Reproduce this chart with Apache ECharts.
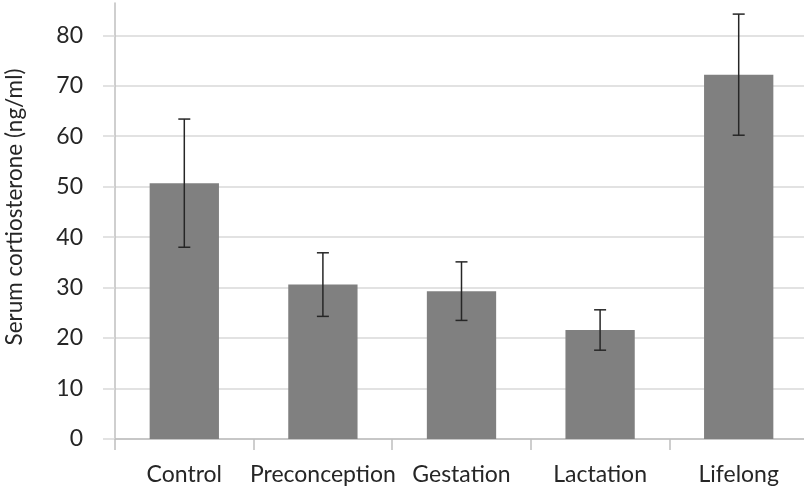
<!DOCTYPE html>
<html>
<head>
<meta charset="utf-8">
<script src="https://cdn.jsdelivr.net/npm/echarts@6/dist/echarts.min.js"></script>
<style>html,body{margin:0;padding:0;background:#fff;}#c{width:804px;height:490px;}</style>
</head>
<body>
<div id="c"></div>
<script>
const categories = ['Control', 'Preconception', 'Gestation', 'Lactation', 'Lifelong'];
const means = [50.7, 30.6, 29.3, 21.6, 72.2];
const errors = [12.7, 6.3, 5.8, 4.0, 12.0];
const yTicks = [0, 10, 20, 30, 40, 50, 60, 70, 80];

const chart = echarts.init(document.getElementById('c'), null, {renderer: 'canvas'});
const font = 'Lato, "Noto Sans", sans-serif';
chart.setOption({
  animation: false,
  grid: {left: 115, right: -4, top: 3, bottom: 51, containLabel: false, outerBoundsMode: 'none'},
  xAxis: {
    type: 'category',
    data: categories,
    boundaryGap: true,
    axisLine: {lineStyle: {color: '#bfbfbf', width: 1.5}},
    axisTick: {show: true, length: 11, lineStyle: {color: '#bfbfbf', width: 1.5}},
    axisLabel: {color: '#262626', fontSize: 23, fontFamily: font, margin: 24, interval: 0}
  },
  yAxis: {
    type: 'value',
    min: 0, max: 86.4, interval: 10,
    name: 'Serum cortiosterone (ng/ml)',
    nameLocation: 'middle',
    nameGap: 89,
    nameRotate: 90,
    nameTextStyle: {color: '#262626', fontSize: 22.5, fontFamily: font, padding: [0, 0, 0, 28]},
    axisLine: {show: true, lineStyle: {color: '#bfbfbf', width: 1.5}},
    axisTick: {show: true, length: 12, lineStyle: {color: '#d9d9d9', width: 1.5}},
    axisLabel: {color: '#262626', fontSize: 23, fontFamily: font, margin: 32, showMaxLabel: false,
      formatter: v => (yTicks.indexOf(v) >= 0 ? String(v) : '')},
    splitLine: {show: true, showMaxLine: false, lineStyle: {color: '#d9d9d9', width: 1.5}}
  },
  series: [
    {
      type: 'bar',
      data: means,
      barWidth: '50%',
      itemStyle: {color: '#808080'},
      z: 2
    },
    {
      type: 'custom',
      z: 3,
      data: means.map((m, i) => [i, m - errors[i], m + errors[i]]),
      renderItem: function (params, api) {
        const x = api.value(0);
        const lo = api.coord([x, api.value(1)]);
        const hi = api.coord([x, api.value(2)]);
        const cap = 6;
        const style = {stroke: '#262626', lineWidth: 1.5};
        return {
          type: 'group',
          children: [
            {type: 'line', shape: {x1: hi[0], y1: hi[1], x2: lo[0], y2: lo[1]}, style: style},
            {type: 'line', shape: {x1: hi[0] - cap, y1: hi[1], x2: hi[0] + cap, y2: hi[1]}, style: style},
            {type: 'line', shape: {x1: lo[0] - cap, y1: lo[1], x2: lo[0] + cap, y2: lo[1]}, style: style}
          ]
        };
      }
    }
  ]
});
</script>
</body>
</html>
